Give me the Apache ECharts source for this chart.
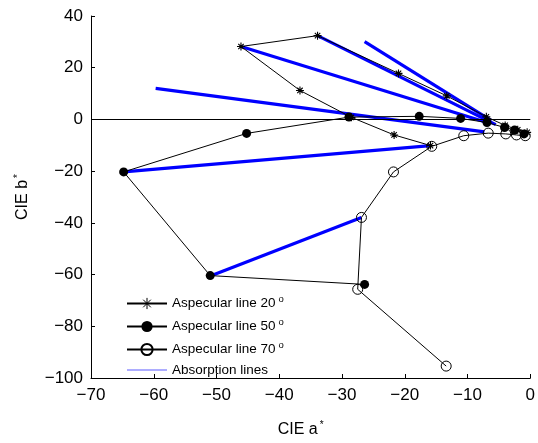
<!DOCTYPE html>
<html><head><meta charset="utf-8">
<script src="https://cdn.jsdelivr.net/npm/echarts@6/dist/echarts.min.js"></script>
<style>html,body{margin:0;padding:0;background:#fff}#c{width:538px;height:443px}</style>
</head><body><div id="c"></div>
<script>
// ---- data ----
const xTicks = [-70, -60, -50, -40, -30, -20, -10, 0];
const yTicks = [-100, -80, -60, -40, -20, 0, 20, 40];

// Aspecular line 20° (asterisks)
const a20 = [-0.5, -2.0, -4.0, -7.0, -13.3, -21.0, -33.9, -46.1, -36.7, -28.5, -21.7, -15.9];
const b20 = [-5.0, -4.0, -2.3, 1.0, 9.1, 17.8, 32.4, 28.2, 11.2, 0.8, -6.0, -10.1];

// Aspecular line 50° (filled circles)
const a50 = [-1.0, -2.5, -4.1, -6.9, -11.1, -17.7, -28.9, -45.2, -64.8, -51.0, -26.4];
const b50 = [-5.6, -4.1, -3.1, -1.2, 0.4, 1.2, 0.9, -5.4, -20.3, -60.4, -63.8];

// Aspecular line 70° (open circles)
const a70 = [-0.8, -2.2, -3.9, -6.7, -10.6, -15.7, -21.8, -26.9, -27.5, -13.4];
const b70 = [-6.3, -6.0, -5.6, -5.3, -6.3, -10.4, -20.3, -37.9, -65.7, -95.4];

// Absorption lines (start -> end)
const absStartA = [-46.1, -33.9, -26.4, -59.7, -64.8, -51.5];
const absStartB = [28.2, 32.4, 30.1, 12.0, -20.3, -61.0];
const absEndA = [-6.5, -5.5, -6.2, -7.3, -15.9, -26.9];
const absEndB = [-1.5, -2.0, -0.5, -4.8, -10.1, -37.9];

const seriesNames = ['Aspecular line 20', 'Aspecular line 50', 'Aspecular line 70', 'Absorption lines'];

// ---- build ----
const zip = (xs, ys) => xs.map((x, i) => [x, ys[i]]);
const starPath = 'path://M5,0L5,10M0,5L10,5M1.6,1.6L8.4,8.4M1.6,8.4L8.4,1.6';
const minus = v => String(v).replace('-', '\u2212');
const font = '"Liberation Sans", Arial, Helvetica, sans-serif';

const series = [];
absStartA.forEach((_, i) => {
  series.push({
    name: seriesNames[3], type: 'line', z: 2,
    data: [[absStartA[i], absStartB[i]], [absEndA[i], absEndB[i]]],
    symbol: 'none', lineStyle: { color: '#0000ff', width: 3.2 },
    itemStyle: { color: '#0000ff' },
    emphasis: { disabled: true }, silent: true
  });
});
series.push({
  name: seriesNames[0], type: 'line', z: 5, data: zip(a20, b20),
  symbol: starPath, symbolSize: 8,
  itemStyle: { color: '#000', borderColor: '#000', borderWidth: 1.1 },
  lineStyle: { color: '#000', width: 1 },
  emphasis: { disabled: true }, silent: true,
  markLine: {
    silent: true, symbol: ['none', 'none'], label: { show: false },
    lineStyle: { color: '#000', width: 1, type: 'solid' },
    data: [{ yAxis: 0 }]
  }
});
series.push({
  name: seriesNames[1], type: 'line', z: 6, data: zip(a50, b50),
  symbol: 'circle', symbolSize: 9,
  itemStyle: { color: '#000', borderColor: '#000', borderWidth: 0 },
  lineStyle: { color: '#000', width: 1 },
  emphasis: { disabled: true }, silent: true
});
series.push({
  name: seriesNames[2], type: 'line', z: 7, data: zip(a70, b70),
  symbol: 'circle', symbolSize: 10,
  itemStyle: { color: 'rgba(255,255,255,0)', borderColor: '#000', borderWidth: 1 },
  lineStyle: { color: '#000', width: 1 },
  emphasis: { disabled: true }, silent: true
});

const chart = echarts.init(document.getElementById('c'), null, { renderer: 'canvas' });
chart.setOption({
  animation: false,
  backgroundColor: '#fff',
  textStyle: { fontFamily: font },
  grid: { left: 91, top: 16, width: 448, height: 365 },
  legend: {
    orient: 'vertical', left: 121, top: 289,
    itemWidth: 40, itemHeight: 14, itemGap: 4,
    selectedMode: false,
    data: [
      { name: seriesNames[0], itemStyle: { borderWidth: 1 } },
      { name: seriesNames[1], lineStyle: { width: 2 } },
      { name: seriesNames[2] },
      { name: seriesNames[3], itemStyle: { opacity: 0 }, lineStyle: { width: 1, color: '#5a5aff' } }
    ],
    formatter: n => n === seriesNames[3] ? '{t|' + n + '}' : '{t|' + n + '}{s|o}',
    textStyle: {
      fontFamily: font, color: '#000', fontSize: 13.5,
      rich: {
        t: { fontSize: 13.5, fontFamily: font, color: '#000', lineHeight: 15 },
        s: { fontSize: 9.5, fontFamily: font, color: '#000', padding: [0, 0, 9, 3], lineHeight: 15 }
      }
    }
  },
  xAxis: {
    type: 'value', min: xTicks[0], max: xTicks[xTicks.length - 1], interval: 10,
    name: '{t|CIE a}{s|*}', nameLocation: 'middle', nameGap: 42,
    nameTextStyle: {
      padding: [0, 20, 0, 0],
      rich: {
        t: { fontSize: 16, fontFamily: font, color: '#000' },
        s: { fontSize: 10, fontFamily: font, color: '#000', padding: [0, 0, 10, 2] }
      }
    },
    axisLine: { show: true, onZero: false, lineStyle: { color: '#000', width: 1 } },
    axisTick: { show: true, inside: true, length: 4, lineStyle: { color: '#000' } },
    axisLabel: { fontSize: 17, color: '#000', margin: 9, fontFamily: font, formatter: minus },
    splitLine: { show: false }
  },
  yAxis: {
    type: 'value', min: yTicks[0], max: yTicks[yTicks.length - 1], interval: 20,
    name: '{t|CIE b}{s|*}', nameLocation: 'middle', nameGap: 58, nameRotate: 90,
    nameTextStyle: {
      rich: {
        t: { fontSize: 16, fontFamily: font, color: '#000' },
        s: { fontSize: 10, fontFamily: font, color: '#000', padding: [0, 0, 10, 2] }
      }
    },
    axisLine: { show: true, onZero: false, lineStyle: { color: '#000', width: 1 } },
    axisTick: { show: true, inside: true, length: 4, lineStyle: { color: '#000' } },
    axisLabel: { fontSize: 17, color: '#000', margin: 8, fontFamily: font, formatter: minus },
    splitLine: { show: false }
  },
  series: series
});
</script></body></html>
